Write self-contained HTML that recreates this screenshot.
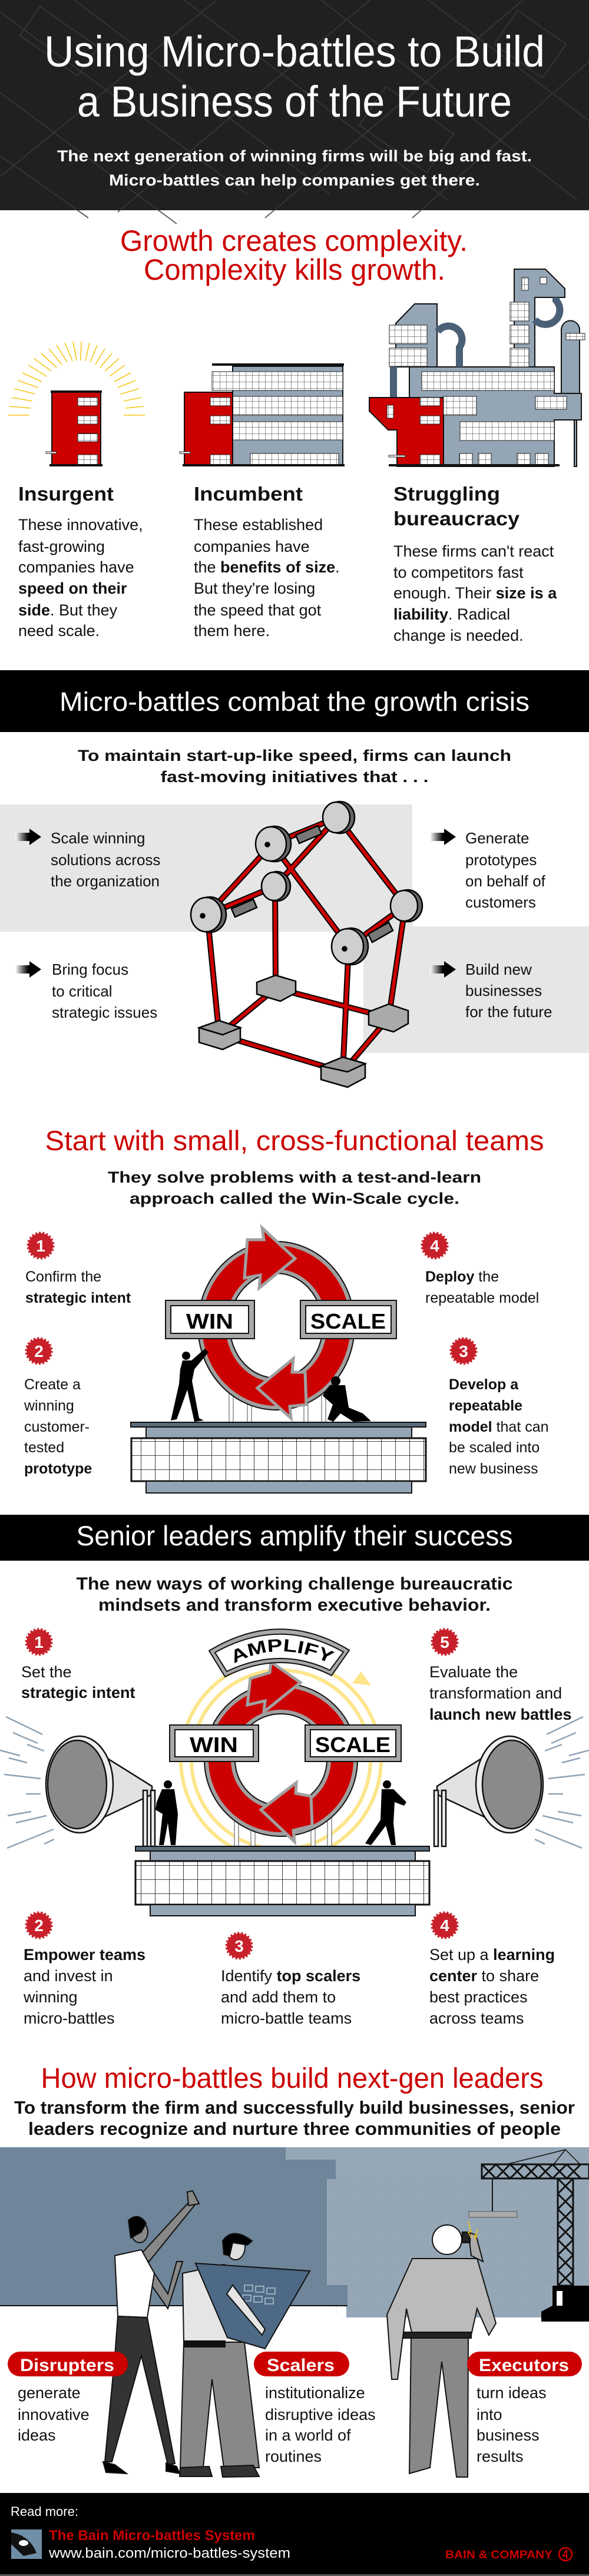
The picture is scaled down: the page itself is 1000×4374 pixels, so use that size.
<!DOCTYPE html>
<html><head><meta charset="utf-8">
<style>
html,body{margin:0;padding:0;background:#fff;}
svg{display:block;}
text{font-family:"Liberation Sans",sans-serif;}
</style></head>
<body>
<svg width="1000" height="4374" viewBox="0 0 1000 4374" xmlns="http://www.w3.org/2000/svg">
<defs>
<pattern id="g24" x="0" y="0" width="24" height="24" patternUnits="userSpaceOnUse">
<rect width="24" height="24" fill="#fff"/><path d="M24 0V24M0 24H24" stroke="#111" stroke-width="1.6" fill="none"/></pattern>
<pattern id="g12" x="0" y="0" width="11" height="11" patternUnits="userSpaceOnUse">
<rect width="11" height="11" fill="#fff"/><path d="M11 0V11M0 11H11" stroke="#333" stroke-width="1" fill="none"/></pattern>
<pattern id="gd" x="0" y="0" width="22" height="22" patternUnits="userSpaceOnUse">
<path d="M0 0H22V22" stroke="#7e8fa0" stroke-width="1" stroke-dasharray="2 2" fill="none"/></pattern>
<linearGradient id="arr" x1="0" x2="1"><stop offset="0" stop-color="#fff"/><stop offset="0.5" stop-color="#000"/></linearGradient>
</defs>

<!-- HEADER -->
<rect x="0" y="0" width="1000" height="357" fill="#202020"/>
<g stroke="#3a3a3a" stroke-width="2" fill="none" opacity="0.8">
<path d="M-50 120 L300 380 M0 20 L420 330 M100 -20 L560 330 M300 -10 L760 340 M520 -20 L980 340 M700 -20 L1060 250 M-20 250 L150 370"/>
<path d="M0 300 L380 -10 M200 360 L640 -10 M450 370 L900 -10 M700 370 L1050 60"/>
<rect x="40" y="40" width="120" height="60" transform="rotate(35 100 70)"/>
<rect x="620" y="180" width="140" height="80" transform="rotate(35 690 220)"/>
<rect x="850" y="40" width="100" height="70" transform="rotate(35 900 75)"/>
</g>
<text x="500" y="113" fill="#fff" font-size="74" text-anchor="middle" textLength="850" lengthAdjust="spacingAndGlyphs">Using Micro-battles to Build</text>
<text x="500" y="198" fill="#fff" font-size="74" text-anchor="middle" textLength="738" lengthAdjust="spacingAndGlyphs">a Business of the Future</text>
<text x="500" y="274" fill="#fff" font-size="27" font-weight="bold" text-anchor="middle" textLength="806" lengthAdjust="spacingAndGlyphs">The next generation of winning firms will be big and fast.</text>
<text x="500" y="315" fill="#fff" font-size="27" font-weight="bold" text-anchor="middle" textLength="630" lengthAdjust="spacingAndGlyphs">Micro-battles can help companies get there.</text>

<!-- SECTION 1 -->
<text x="499" y="426" fill="#cc0000" font-size="50" text-anchor="middle" textLength="590" lengthAdjust="spacingAndGlyphs">Growth creates complexity.</text>
<text x="500" y="475" fill="#cc0000" font-size="50" text-anchor="middle" textLength="512" lengthAdjust="spacingAndGlyphs">Complexity kills growth.</text>

<g stroke="#f5c518" stroke-width="1.6">
<path d="M14 705 L50 705 M16 690 L52 693 M20 675 L55 681 M24 660 L60 669 M30 646 L65 658 M38 633 L71 648 M48 620 L79 639 M58 609 L87 630 M70 600 L96 624 M83 592 L105 619 M96 586 L114 615 M110 582 L123 613 M124 580 L130 612 M138 580 L137 612 M152 582 L145 613 M165 586 L153 615 M178 592 L162 619 M190 600 L170 624 M202 609 L178 630 M212 620 L186 639 M222 633 L194 648 M230 646 L200 658 M236 660 L205 669 M240 675 L210 681 M244 690 L213 693 M246 705 L210 705"/>
</g>
<rect x="88" y="666" width="83" height="125" fill="#cc0000" stroke="#111" stroke-width="2"/>
<rect x="86" y="663" width="87" height="4" fill="#111"/>
<rect x="132" y="675" width="34" height="14" fill="url(#g12)" stroke="#222"/>
<rect x="132" y="706" width="34" height="14" fill="url(#g12)" stroke="#222"/>
<rect x="132" y="736" width="34" height="14" fill="url(#g12)" stroke="#222"/>
<rect x="132" y="772" width="34" height="18" fill="url(#g12)" stroke="#222"/>
<rect x="78" y="767" width="18" height="3" fill="#fff" stroke="#222"/>
<rect x="84" y="788" width="90" height="4" fill="#111"/>

<rect x="395" y="622" width="187" height="169" fill="#94a5b5" stroke="#111" stroke-width="2"/>
<rect x="360" y="617" width="224" height="4" fill="#111"/>
<rect x="360" y="631" width="222" height="32" fill="url(#g12)" stroke="#222"/>
<rect x="395" y="673" width="187" height="32" fill="url(#g12)" stroke="#222"/>
<rect x="395" y="716" width="187" height="31" fill="url(#g12)" stroke="#222"/>
<rect x="425" y="770" width="150" height="20" fill="url(#g12)" stroke="#222"/>
<rect x="313" y="666" width="82" height="125" fill="#cc0000" stroke="#111" stroke-width="2"/>
<rect x="357" y="675" width="34" height="14" fill="url(#g12)" stroke="#222"/>
<rect x="357" y="706" width="34" height="14" fill="url(#g12)" stroke="#222"/>
<rect x="357" y="772" width="34" height="18" fill="url(#g12)" stroke="#222"/>
<rect x="305" y="767" width="18" height="3" fill="#fff" stroke="#222"/>
<rect x="310" y="788" width="275" height="4" fill="#111"/>

<g stroke="#111" stroke-width="2">
<path d="M873 457 L926 457 L959 490 L959 505 L908 505 L908 623 L873 623 Z" fill="#94a5b5"/>
<path d="M672 549 L704 516 L742 516 L742 623 L672 623 Z" fill="#94a5b5"/>
<path d="M695 623 L941 623 L941 668 L987 668 L987 713 L941 713 L941 792 L695 792 Z" fill="#94a5b5"/>
<path d="M953 668 L953 560 A15.5 15.5 0 0 1 984 560 L984 668 Z" fill="#94a5b5"/>
<rect x="975" y="713" width="4" height="79" fill="#94a5b5"/>
<path d="M743 563 A22 22 0 0 1 780 590 L780 623" fill="none" stroke="#4a6077" stroke-width="12"/>
<path d="M908 543 A22 22 0 0 0 944 510 L944 505" fill="none" stroke="#4a6077" stroke-width="12"/>
<path d="M668 674 L668 625 A14 14 0 0 1 685 608" fill="none" stroke="#4a6077" stroke-width="12"/>
<path d="M627 675 L753 675 L753 792 L674 792 L674 730 L659 730 L627 698 Z" fill="#cc0000"/>
</g>
<rect x="661" y="552" width="64" height="32" fill="url(#g12)" stroke="#222"/>
<rect x="661" y="591" width="64" height="31" fill="url(#g12)" stroke="#222"/>
<rect x="866" y="513" width="32" height="32" fill="url(#g12)" stroke="#222"/>
<rect x="866" y="552" width="32" height="32" fill="url(#g12)" stroke="#222"/>
<rect x="866" y="591" width="32" height="32" fill="url(#g12)" stroke="#222"/>
<rect x="886" y="471" width="11" height="22" fill="url(#g12)" stroke="#222"/>
<rect x="917" y="471" width="11" height="11" fill="#fff" stroke="#222"/>
<rect x="716" y="631" width="225" height="32" fill="url(#g12)" stroke="#222"/>
<rect x="753" y="673" width="56" height="32" fill="url(#g12)" stroke="#222"/>
<rect x="909" y="673" width="53" height="22" fill="url(#g12)" stroke="#222"/>
<rect x="781" y="716" width="160" height="32" fill="url(#g12)" stroke="#222"/>
<rect x="780" y="770" width="22" height="20" fill="url(#g12)" stroke="#222"/>
<rect x="812" y="770" width="22" height="20" fill="url(#g12)" stroke="#222"/>
<rect x="878" y="770" width="22" height="20" fill="url(#g12)" stroke="#222"/>
<rect x="909" y="770" width="22" height="20" fill="url(#g12)" stroke="#222"/>
<rect x="961" y="566" width="32" height="11" fill="url(#g12)" stroke="#222"/>
<rect x="657" y="688" width="11" height="22" fill="url(#g12)" stroke="#222"/>
<rect x="713" y="675" width="34" height="14" fill="url(#g12)" stroke="#222"/>
<rect x="713" y="706" width="34" height="14" fill="url(#g12)" stroke="#222"/>
<rect x="713" y="772" width="34" height="18" fill="url(#g12)" stroke="#222"/>
<rect x="660" y="773" width="28" height="3" fill="#fff" stroke="#222"/>
<rect x="660" y="788" width="290" height="4" fill="#111"/>

<g font-size="33" font-weight="bold" fill="#111">
<text x="31" y="850" textLength="162" lengthAdjust="spacingAndGlyphs">Insurgent</text>
<text x="329" y="850" textLength="185" lengthAdjust="spacingAndGlyphs">Incumbent</text>
<text x="668" y="850" textLength="181" lengthAdjust="spacingAndGlyphs">Struggling</text>
<text x="668" y="892" textLength="214" lengthAdjust="spacingAndGlyphs">bureaucracy</text>
</g>
<g font-size="27" fill="#111">
<text x="31" y="900">These innovative,</text>
<text x="31" y="937">fast-growing</text>
<text x="31" y="972">companies have</text>
<text x="31" y="1008" font-weight="bold">speed on their</text>
<text x="31" y="1045"><tspan font-weight="bold">side</tspan>. But they</text>
<text x="31" y="1080">need scale.</text>
<text x="329" y="900">These established</text>
<text x="329" y="937">companies have</text>
<text x="329" y="972">the <tspan font-weight="bold">benefits of size</tspan>.</text>
<text x="329" y="1008">But they're losing</text>
<text x="329" y="1045">the speed that got</text>
<text x="329" y="1080">them here.</text>
<text x="668" y="945">These firms can't react</text>
<text x="668" y="981">to competitors fast</text>
<text x="668" y="1016">enough. Their <tspan font-weight="bold">size is a</tspan></text>
<text x="668" y="1052"><tspan font-weight="bold">liability</tspan>. Radical</text>
<text x="668" y="1088">change is needed.</text>
</g>

<!-- SECTION 2 -->
<rect x="0" y="1138" width="1000" height="105" fill="#000"/>
<text x="500" y="1207" fill="#fff" font-size="45" text-anchor="middle" textLength="798" lengthAdjust="spacingAndGlyphs">Micro-battles combat the growth crisis</text>
<text x="500" y="1292" fill="#111" font-size="27" font-weight="bold" text-anchor="middle" textLength="736" lengthAdjust="spacingAndGlyphs">To maintain start-up-like speed, firms can launch</text>
<text x="500" y="1328" fill="#111" font-size="27" font-weight="bold" text-anchor="middle" textLength="455" lengthAdjust="spacingAndGlyphs">fast-moving initiatives that . . .</text>
<rect x="0" y="1366" width="700" height="216" fill="#e6e6e6"/>
<rect x="617" y="1573" width="383" height="215" fill="#e6e6e6"/>
<g>
<path d="M26 1414 L50 1414 L50 1407 L70 1421 L50 1435 L50 1428 L26 1428 Z" fill="url(#arr)"/>
<path d="M26 1639 L50 1639 L50 1632 L70 1646 L50 1660 L50 1653 L26 1653 Z" fill="url(#arr)"/>
<path d="M730 1414 L754 1414 L754 1407 L774 1421 L754 1435 L754 1428 L730 1428 Z" fill="url(#arr)"/>
<path d="M730 1639 L754 1639 L754 1632 L774 1646 L754 1660 L754 1653 L730 1653 Z" fill="url(#arr)"/>
</g>
<g font-size="26" fill="#111">
<text x="86" y="1432">Scale winning</text>
<text x="86" y="1469">solutions across</text>
<text x="86" y="1505">the organization</text>
<text x="88" y="1655">Bring focus</text>
<text x="88" y="1692">to critical</text>
<text x="88" y="1728">strategic issues</text>
<text x="790" y="1432">Generate</text>
<text x="790" y="1469">prototypes</text>
<text x="790" y="1505">on behalf of</text>
<text x="790" y="1541">customers</text>
<text x="790" y="1655">Build new</text>
<text x="790" y="1691">businesses</text>
<text x="790" y="1727">for the future</text>
</g>
<g stroke-linecap="round" fill="none">
<g stroke="#000" stroke-width="10">
<path d="M372 1757 L468 1678 L660 1728 L582 1820 Z M352 1553 L372 1757 M467 1505 L468 1678 M592 1607 L582 1820 M688 1538 L660 1728 M462 1433 L352 1553 M462 1433 L592 1607 M573 1388 L688 1538 M467 1505 L573 1388 M462 1433 L573 1388 M352 1553 L467 1505 M592 1607 L688 1538"/>
</g>
<g stroke="#cc0000" stroke-width="6">
<path d="M372 1757 L468 1678 L660 1728 L582 1820 Z M352 1553 L372 1757 M467 1505 L468 1678 M592 1607 L582 1820 M688 1538 L660 1728 M462 1433 L352 1553 M462 1433 L592 1607 M573 1388 L688 1538 M467 1505 L573 1388 M462 1433 L573 1388 M352 1553 L467 1505 M592 1607 L688 1538"/>
</g>
</g>
<g stroke="#000" stroke-width="2.5">
<path d="M502 1418 L540 1402 L546 1416 L508 1432 Z" fill="#777"/>
<path d="M393 1543 L430 1527 L436 1541 L399 1557 Z" fill="#777"/>
<path d="M625 1586 L660 1566 L667 1580 L632 1600 Z" fill="#777"/>
</g>
<g stroke="#000" stroke-width="2.5" fill="#cfcfcf">
<g><ellipse cx="466" cy="1433" rx="28" ry="30" fill="#666"/><ellipse cx="460" cy="1433" rx="26" ry="29"/><circle cx="454" cy="1434" r="3.5" fill="#000"/></g>
<g><ellipse cx="577" cy="1388" rx="25" ry="27" fill="#666"/><ellipse cx="571" cy="1388" rx="23" ry="26"/></g>
<g><ellipse cx="356" cy="1553" rx="28" ry="30" fill="#666"/><ellipse cx="350" cy="1553" rx="26" ry="29"/><circle cx="344" cy="1555" r="3.5" fill="#000"/></g>
<g><ellipse cx="470" cy="1505" rx="23" ry="25" fill="#666"/><ellipse cx="465" cy="1505" rx="21" ry="24"/></g>
<g><ellipse cx="692" cy="1538" rx="25" ry="27" fill="#666"/><ellipse cx="686" cy="1538" rx="23" ry="26"/></g>
<g><ellipse cx="596" cy="1607" rx="29" ry="31" fill="#666"/><ellipse cx="590" cy="1607" rx="27" ry="30"/><circle cx="585" cy="1611" r="3.5" fill="#000"/></g>
<path d="M338 1745 L372 1733 L408 1745 L408 1768 L378 1782 L338 1770 Z" fill="#aaa"/>
<path d="M338 1745 L372 1733 L408 1745 L378 1757 Z" fill="#999"/>
<path d="M436 1668 L468 1656 L502 1666 L502 1686 L476 1700 L436 1688 Z" fill="#aaa"/>
<path d="M626 1718 L660 1705 L693 1716 L693 1738 L668 1752 L626 1740 Z" fill="#aaa"/>
<path d="M545 1810 L582 1795 L620 1806 L620 1830 L590 1846 L545 1833 Z" fill="#aaa"/>
<path d="M545 1810 L582 1795 L620 1806 L590 1820 Z" fill="#999"/>
</g>

<!-- SECTION 3 -->
<text x="500" y="1953" fill="#cc0000" font-size="47" text-anchor="middle" textLength="847" lengthAdjust="spacingAndGlyphs">Start with small, cross-functional teams</text>
<text x="500" y="2008" fill="#111" font-size="27" font-weight="bold" text-anchor="middle" textLength="634" lengthAdjust="spacingAndGlyphs">They solve problems with a test-and-learn</text>
<text x="500" y="2044" fill="#111" font-size="27" font-weight="bold" text-anchor="middle" textLength="560" lengthAdjust="spacingAndGlyphs">approach called the Win-Scale cycle.</text>

<g fill="#c8202a" stroke="#c8202a" stroke-width="5" stroke-dasharray="3 3">
<circle cx="69" cy="2115" r="21"/><circle cx="66" cy="2294" r="21"/><circle cx="738" cy="2115" r="21"/><circle cx="787" cy="2294" r="21"/>
</g>
<g fill="#fff" font-size="28" font-weight="bold" text-anchor="middle">
<text x="69" y="2125">1</text><text x="66" y="2304">2</text><text x="738" y="2125">4</text><text x="787" y="2304">3</text>
</g>
<g font-size="25" fill="#111">
<text x="43" y="2176">Confirm the</text>
<text x="43" y="2212" font-weight="bold">strategic intent</text>
<text x="41" y="2359">Create a</text>
<text x="41" y="2395">winning</text>
<text x="41" y="2431">customer-</text>
<text x="41" y="2466">tested</text>
<text x="41" y="2502" font-weight="bold">prototype</text>
<text x="722" y="2176"><tspan font-weight="bold">Deploy</tspan> the</text>
<text x="722" y="2212">repeatable model</text>
<text x="762" y="2359" font-weight="bold">Develop a</text>
<text x="762" y="2395" font-weight="bold">repeatable</text>
<text x="762" y="2431"><tspan font-weight="bold">model</tspan> that can</text>
<text x="762" y="2466">be scaled into</text>
<text x="762" y="2502">new business</text>
</g>
<g stroke="#888" stroke-width="1.5" fill="#fff">
<rect x="389" y="2350" width="7" height="66"/><rect x="420" y="2350" width="7" height="66"/><rect x="516" y="2350" width="7" height="66"/><rect x="546" y="2350" width="7" height="66"/>
</g>
<ellipse cx="469" cy="2251" rx="106" ry="116" fill="none" stroke="#111" stroke-width="56"/>
<ellipse cx="469" cy="2251" rx="106" ry="116" fill="none" stroke="#a0a0a0" stroke-width="52"/>
<ellipse cx="469" cy="2251" rx="106" ry="116" fill="none" stroke="#cc0000" stroke-width="40"/>
<path d="M445 2085 L501 2137 L440 2187 L442 2165 L415 2170 L420 2105 L448 2105 Z" fill="#cc0000" stroke="#a0a0a0" stroke-width="5"/>
<path d="M498 2307 L437 2357 L494 2408 L492 2388 L520 2385 L518 2330 L496 2330 Z" fill="#cc0000" stroke="#a0a0a0" stroke-width="5"/>
<rect x="281" y="2208" width="151" height="65" fill="#a8a8a8" stroke="#111" stroke-width="2"/>
<rect x="290" y="2217" width="132" height="47" fill="#fff" stroke="#111" stroke-width="2"/>
<rect x="510" y="2208" width="163" height="65" fill="#a8a8a8" stroke="#111" stroke-width="2"/>
<rect x="519" y="2217" width="145" height="47" fill="#fff" stroke="#111" stroke-width="2"/>
<text x="356" y="2256" font-size="36" font-weight="bold" text-anchor="middle" fill="#000" textLength="80" lengthAdjust="spacingAndGlyphs">WIN</text>
<text x="591" y="2256" font-size="36" font-weight="bold" text-anchor="middle" fill="#000" textLength="128" lengthAdjust="spacingAndGlyphs">SCALE</text>
<g fill="#000">
<circle cx="316" cy="2302" r="7"/>
<path d="M310 2310 L325 2310 L348 2290 L354 2296 L330 2325 L326 2345 L338 2408 L346 2412 L330 2414 L318 2360 L300 2410 L290 2412 L304 2350 L306 2325 Z"/>
<circle cx="570" cy="2345" r="8"/>
<path d="M560 2352 L586 2352 L592 2390 L616 2400 L630 2413 L600 2414 L578 2400 L566 2414 L556 2410 L565 2385 L548 2370 L552 2362 Z"/>
</g>
<rect x="222" y="2415" width="501" height="8" fill="#5a6a78" stroke="#111" stroke-width="2"/>
<rect x="248" y="2423" width="451" height="19" fill="#94a5b5" stroke="#111" stroke-width="2"/>
<rect x="223" y="2442" width="500" height="73" fill="url(#g24)" stroke="#111" stroke-width="3"/>
<rect x="248" y="2515" width="451" height="20" fill="#94a5b5" stroke="#111" stroke-width="2"/>

<!-- SECTION 4 -->
<rect x="0" y="2572" width="1000" height="78" fill="#000"/>
<text x="500" y="2624" fill="#fff" font-size="47" text-anchor="middle" textLength="741" lengthAdjust="spacingAndGlyphs">Senior leaders amplify their success</text>
<text x="500" y="2699" fill="#111" font-size="30" font-weight="bold" text-anchor="middle" textLength="741" lengthAdjust="spacingAndGlyphs">The new ways of working challenge bureaucratic</text>
<text x="500" y="2735" fill="#111" font-size="30" font-weight="bold" text-anchor="middle" textLength="666" lengthAdjust="spacingAndGlyphs">mindsets and transform executive behavior.</text>

<g fill="#c8202a" stroke="#c8202a" stroke-width="5" stroke-dasharray="3 3">
<circle cx="66" cy="2788" r="21"/><circle cx="755" cy="2788" r="21"/><circle cx="66" cy="3269" r="21"/><circle cx="406" cy="3304" r="21"/><circle cx="755" cy="3269" r="21"/>
</g>
<g fill="#fff" font-size="28" font-weight="bold" text-anchor="middle">
<text x="66" y="2798">1</text><text x="755" y="2798">5</text><text x="66" y="3279">2</text><text x="406" y="3314">3</text><text x="755" y="3279">4</text>
</g>
<g font-size="27" fill="#111">
<text x="36" y="2848">Set the</text>
<text x="36" y="2883" font-weight="bold">strategic intent</text>
<text x="729" y="2848">Evaluate the</text>
<text x="729" y="2884">transformation and</text>
<text x="729" y="2920" font-weight="bold">launch new battles</text>
<text x="40" y="3328" font-weight="bold">Empower teams</text>
<text x="40" y="3364">and invest in</text>
<text x="40" y="3400">winning</text>
<text x="40" y="3436">micro-battles</text>
<text x="375" y="3364">Identify <tspan font-weight="bold">top scalers</tspan></text>
<text x="375" y="3400">and add them to</text>
<text x="375" y="3436">micro-battle teams</text>
<text x="729" y="3328">Set up a <tspan font-weight="bold">learning</tspan></text>
<text x="729" y="3364"><tspan font-weight="bold">center</tspan> to share</text>
<text x="729" y="3400">best practices</text>
<text x="729" y="3436">across teams</text>
</g>
<circle cx="477" cy="2988" r="170" fill="none" stroke="#fde58a" stroke-width="6"/>
<circle cx="477" cy="2988" r="152" fill="none" stroke="#fde58a" stroke-width="6"/>
<path d="M598 2858 L613 2838 L630 2862 Z" fill="#fde58a"/>
<g stroke="#8fa3b5" stroke-width="2.5">
<path d="M10 2915 L72 2945 M22 2942 L64 2960 M46 2962 L75 2973 M0 2972 L34 2981 M15 2985 L46 2993 M7 3013 L69 3020 M44 3046 L69 3046 M13 3083 L53 3076 M27 3095 L79 3083 M12 3138 L91 3106 M75 3131 L92 3123"/>
<path d="M990 2915 L928 2945 M978 2942 L936 2960 M954 2962 L925 2973 M1000 2972 L966 2981 M985 2985 L954 2993 M993 3013 L931 3020 M956 3046 L931 3046 M987 3083 L947 3076 M973 3095 L921 3083 M988 3138 L909 3106 M925 3131 L908 3123"/>
</g>
<g stroke="#111" stroke-width="2.5">
<path d="M125 2950 L258 3033 L258 3047 L125 3110 Z" fill="#e2e2e2"/>
<rect x="243" y="3040" width="7" height="95" fill="#eee"/><rect x="256" y="3040" width="7" height="95" fill="#eee"/>
<ellipse cx="135" cy="3030" rx="57" ry="82" fill="#eee"/>
<ellipse cx="131" cy="3030" rx="50" ry="75" fill="#8a8a8a"/>
<path d="M875 2950 L742 3033 L742 3047 L875 3110 Z" fill="#e2e2e2"/>
<rect x="750" y="3040" width="7" height="95" fill="#eee"/><rect x="737" y="3040" width="7" height="95" fill="#eee"/>
<ellipse cx="865" cy="3030" rx="57" ry="82" fill="#eee"/>
<ellipse cx="869" cy="3030" rx="50" ry="75" fill="#8a8a8a"/>
</g>
<g fill="#000">
<circle cx="285" cy="3030" r="7"/>
<path d="M275 3038 L296 3038 L302 3080 L298 3133 L290 3133 L285 3095 L278 3133 L270 3133 L276 3080 L264 3073 L266 3060 Z"/>
<circle cx="657" cy="3030" r="7"/>
<path d="M648 3038 L668 3038 L690 3060 L686 3066 L670 3060 L668 3095 L672 3133 L664 3133 L655 3100 L630 3133 L620 3130 L646 3090 Z"/>
</g>
<g stroke="#888" stroke-width="1.5" fill="#fff">
<rect x="398" y="3085" width="7" height="52"/><rect x="426" y="3085" width="7" height="52"/><rect x="528" y="3085" width="7" height="52"/><rect x="556" y="3085" width="7" height="52"/>
</g>
<circle cx="477" cy="2988" r="104" fill="none" stroke="#111" stroke-width="54"/>
<circle cx="477" cy="2988" r="104" fill="none" stroke="#a0a0a0" stroke-width="50"/>
<circle cx="477" cy="2988" r="104" fill="none" stroke="#cc0000" stroke-width="38"/>
<path d="M460 2822 L510 2857 L448 2907 L450 2888 L420 2895 L425 2850 L458 2840 Z" fill="#cc0000" stroke="#a0a0a0" stroke-width="5"/>
<path d="M503 3027 L443 3073 L500 3127 L498 3108 L530 3100 L528 3050 L502 3045 Z" fill="#cc0000" stroke="#a0a0a0" stroke-width="5"/>
<path d="M355 2803 Q475 2730 593 2802 L563 2845 Q475 2800 382 2847 Z" fill="#a8a8a8" stroke="#111" stroke-width="2"/>
<path d="M365 2806 Q475 2744 583 2805 L560 2836 Q475 2795 385 2838 Z" fill="#fff" stroke="#111" stroke-width="2"/>
<path id="amp" d="M388 2830 Q475 2778 570 2830" fill="none"/>
<text font-size="30" font-weight="bold" fill="#000"><textPath href="#amp" startOffset="50%" text-anchor="middle" textLength="170" lengthAdjust="spacingAndGlyphs">AMPLIFY</textPath></text>
<rect x="288" y="2929" width="151" height="62" fill="#a8a8a8" stroke="#111" stroke-width="2"/>
<rect x="297" y="2937" width="133" height="46" fill="#fff" stroke="#111" stroke-width="2"/>
<rect x="518" y="2929" width="163" height="62" fill="#a8a8a8" stroke="#111" stroke-width="2"/>
<rect x="527" y="2937" width="145" height="46" fill="#fff" stroke="#111" stroke-width="2"/>
<text x="363" y="2975" font-size="36" font-weight="bold" text-anchor="middle" fill="#000" textLength="82" lengthAdjust="spacingAndGlyphs">WIN</text>
<text x="599" y="2975" font-size="36" font-weight="bold" text-anchor="middle" fill="#000" textLength="128" lengthAdjust="spacingAndGlyphs">SCALE</text>
<rect x="230" y="3135" width="499" height="8" fill="#5a6a78" stroke="#111" stroke-width="2"/>
<rect x="255" y="3143" width="450" height="17" fill="#94a5b5" stroke="#111" stroke-width="2"/>
<rect x="230" y="3160" width="499" height="74" fill="url(#g24)" stroke="#111" stroke-width="3"/>
<rect x="255" y="3234" width="450" height="19" fill="#94a5b5" stroke="#111" stroke-width="2"/>

<!-- SECTION 5 -->
<text x="496" y="3545" fill="#cc0000" font-size="48" text-anchor="middle" textLength="853" lengthAdjust="spacingAndGlyphs">How micro-battles build next-gen leaders</text>
<text x="500" y="3589" fill="#111" font-size="31" font-weight="bold" text-anchor="middle" textLength="952" lengthAdjust="spacingAndGlyphs">To transform the firm and successfully build businesses, senior</text>
<text x="500" y="3625" fill="#111" font-size="31" font-weight="bold" text-anchor="middle" textLength="904" lengthAdjust="spacingAndGlyphs">leaders recognize and nurture three communities of people</text>
<rect x="0" y="3646" width="1000" height="269" fill="#6f8599"/>
<path d="M485 3646 L1000 3646 L1000 3935 L588 3935 L588 3915 L590 3915 L590 3880 L555 3880 L555 3700 L570 3700 L570 3667 L485 3667 Z" fill="#95a7b6"/>
<rect x="560" y="3700" width="440" height="230" fill="url(#gd)" opacity="0.7"/>
<line x1="0" y1="3915" x2="590" y2="3915" stroke="#111" stroke-width="2"/>
<g stroke="#111" stroke-width="3" fill="none">
<rect x="818" y="3675" width="182" height="24"/>
<path d="M818 3675 L842 3699 M842 3675 L818 3699 M842 3675 L866 3699 M866 3675 L842 3699 M866 3675 L890 3699 M890 3675 L866 3699 M890 3675 L914 3699 M914 3675 L890 3699 M914 3675 L938 3699 M938 3675 L914 3699 M938 3675 L962 3699 M962 3675 L938 3699 M962 3675 L986 3699 M986 3675 L962 3699"/>
<rect x="947" y="3699" width="26" height="182"/>
<path d="M947 3699 L973 3725 M973 3699 L947 3725 M947 3725 L973 3751 M973 3725 L947 3751 M947 3751 L973 3777 M973 3751 L947 3777 M947 3777 L973 3803 M973 3777 L947 3803 M947 3803 L973 3829 M973 3803 L947 3829 M947 3829 L973 3855 M973 3829 L947 3855 M947 3855 L973 3881 M973 3855 L947 3881"/>
<path d="M960 3650 L940 3675 M960 3650 L985 3675 M960 3650 L860 3675" stroke-width="1.5"/>
<path d="M836 3700 L836 3755" stroke-width="2"/>
</g>
<rect x="796" y="3755" width="82" height="10" fill="#aaa" stroke="#555"/>
<path d="M938 3881 L1000 3881 L1000 3942 L919 3942 L919 3925 L938 3915 Z" fill="#000"/>
<rect x="945" y="3890" width="10" height="25" fill="#fff"/>
<g stroke="#111" stroke-width="2">
<path d="M237 3830 L320 3740 L330 3745 L253 3840 Z" fill="#888"/>
<path d="M320 3745 L318 3722 L327 3720 L338 3742 Z" fill="#888"/>
<path d="M250 3870 L285 3920 L310 3840 L300 3840 L285 3895 L262 3860 Z" fill="#888"/>
<path d="M195 3830 L240 3820 L262 3860 L250 3935 L200 3933 Z" fill="#fff"/>
<path d="M200 3933 L250 3935 L297 4183 L285 4185 L240 4000 L190 4180 L178 4180 L195 4000 Z" fill="#333"/>
<path d="M175 4180 L195 4185 L215 4200 L180 4198 Z" fill="#000"/>
<path d="M282 4182 L300 4188 L305 4200 L282 4196 Z" fill="#000"/>
<ellipse cx="237" cy="3790" rx="14" ry="18" fill="#888"/>
<path d="M218 3770 Q235 3755 248 3775 L240 3790 L222 3800 Z" fill="#000"/>
</g>
<g stroke="#111" stroke-width="2">
<path d="M310 3860 L380 3845 L440 3870 L447 3977 L312 3977 Z" fill="#e5e5e5"/>
<path d="M312 3977 L415 3977 L440 4190 L380 4190 L360 4040 L345 4190 L306 4190 Z" fill="#888"/>
<rect x="312" y="3975" width="70" height="10" fill="#111"/>
<path d="M306 4190 L355 4188 L360 4205 L305 4205 Z" fill="#333"/>
<path d="M375 4188 L430 4186 L440 4205 L378 4206 Z" fill="#333"/>
<ellipse cx="400" cy="3815" rx="16" ry="22" fill="#ddd"/>
<path d="M378 3805 Q395 3780 428 3805 L420 3812 L395 3808 L390 3830 L380 3828 Z" fill="#000"/>
<path d="M332 3843 L526 3856 L450 3988 L386 3969 Z" fill="#4d6985"/>
<g stroke="#cfd9e3" stroke-width="1.2" fill="none"><rect x="415" y="3880" width="14" height="10"/><rect x="434" y="3882" width="14" height="10"/><rect x="453" y="3885" width="14" height="10"/><rect x="412" y="3897" width="14" height="10"/><rect x="431" y="3899" width="14" height="10"/><rect x="450" y="3902" width="14" height="10"/></g>
<path d="M395 3880 L450 3955 L445 3965 L385 3895 Z" fill="#e5e5e5"/>
</g>
<g stroke="#111" stroke-width="2">
<path d="M700 3835 L810 3835 L842 3945 L830 3965 L810 3920 L800 3965 L700 3965 L690 3920 L675 4040 L665 4040 L657 3930 Z" fill="#bbb"/>
<path d="M800 3830 L795 3790 L808 3795 L820 3840 Z" fill="#aaa"/>
<path d="M698 3965 L795 3965 L794 4206 L775 4206 L750 4010 L730 4190 L695 4200 Z" fill="#888"/>
<rect x="685" y="3960" width="115" height="10" fill="#222"/>
<circle cx="759" cy="3803" r="25" fill="#fff"/>
<rect x="785" y="3790" width="13" height="18" fill="#222"/>
</g>
<path d="M795 3772 L800 3790 L795 3790 L800 3800 M812 3785 L805 3798 L810 3795 L806 3805" stroke="#f5c518" stroke-width="1.5" fill="none"/>
<g fill="#cc0000">
<rect x="13" y="3993" width="204" height="42" rx="21"/>
<rect x="431" y="3993" width="162" height="42" rx="21"/>
<rect x="793" y="3993" width="195" height="42" rx="21"/>
</g>
<g fill="#fff" font-size="30" font-weight="bold">
<text x="34" y="4026" textLength="160" lengthAdjust="spacingAndGlyphs">Disrupters</text>
<text x="453" y="4026" textLength="115" lengthAdjust="spacingAndGlyphs">Scalers</text>
<text x="813" y="4026" textLength="153" lengthAdjust="spacingAndGlyphs">Executors</text>
</g>
<g font-size="27" fill="#111">
<text x="30" y="4072">generate</text>
<text x="30" y="4109">innovative</text>
<text x="30" y="4144">ideas</text>
<text x="450" y="4072">institutionalize</text>
<text x="450" y="4109">disruptive ideas</text>
<text x="450" y="4144">in a world of</text>
<text x="450" y="4180">routines</text>
<text x="809" y="4072">turn ideas</text>
<text x="809" y="4109">into</text>
<text x="809" y="4144">business</text>
<text x="809" y="4180">results</text>
</g>

<!-- FOOTER -->
<rect x="0" y="4233" width="1000" height="141" fill="#000"/>
<rect x="0" y="4371" width="1000" height="3" fill="#555"/>
<text x="18" y="4272" fill="#fff" font-size="22">Read more:</text>
<rect x="19" y="4295" width="52" height="50" fill="#6f8ea8"/>
<path d="M19 4300 Q50 4305 62 4335 L40 4340 L19 4320 Z" fill="#111"/>
<ellipse cx="40" cy="4318" rx="8" ry="5" fill="#fff"/>
<text x="83" y="4313" fill="#cc0000" font-size="24" font-weight="bold" textLength="350" lengthAdjust="spacingAndGlyphs">The Bain Micro-battles System</text>
<text x="83" y="4343" fill="#fff" font-size="24" textLength="410" lengthAdjust="spacingAndGlyphs">www.bain.com/micro-battles-system</text>
<text x="756" y="4344" fill="#cc0000" font-size="19" font-weight="bold" textLength="182" lengthAdjust="spacingAndGlyphs">BAIN &amp; COMPANY</text>
<circle cx="960" cy="4337" r="11" fill="none" stroke="#cc0000" stroke-width="2.5"/>
<path d="M962 4329 L956 4340 L964 4340 M962 4329 L962 4345" stroke="#cc0000" stroke-width="2" fill="none"/>
</svg>
</body></html>
